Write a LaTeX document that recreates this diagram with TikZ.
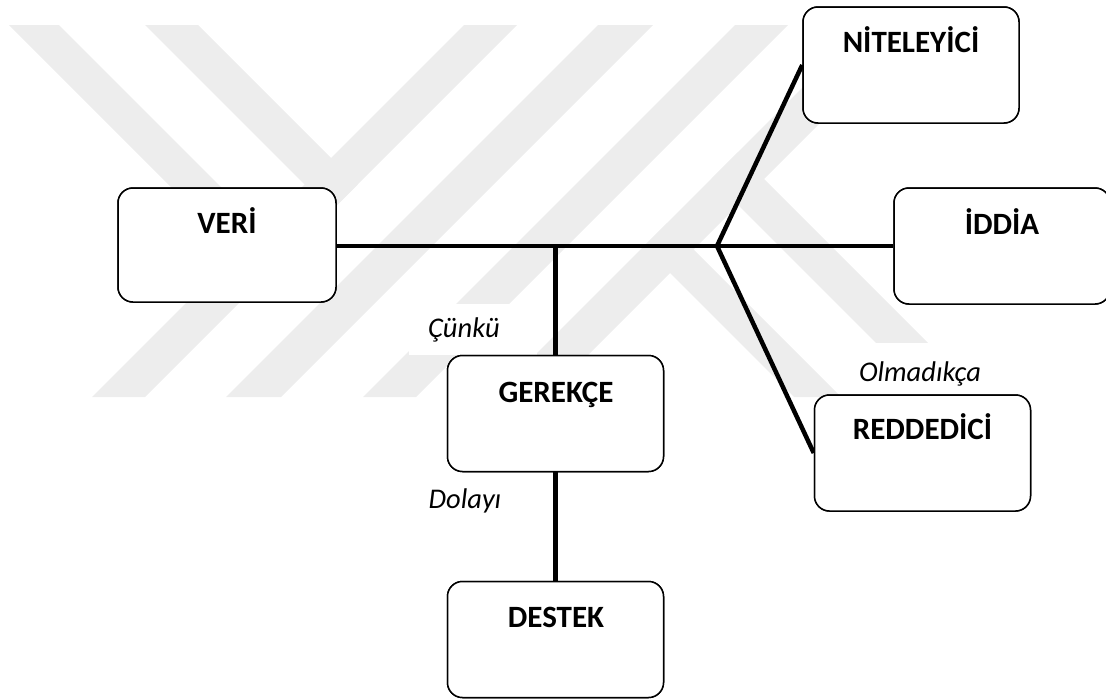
\documentclass[tikz,border=0pt]{standalone}
\usepackage{fontspec}
\setmainfont{Carlito}
\definecolor{wm}{RGB}{237,237,237}
\begin{document}
\begin{tikzpicture}[x=1pt,y=-1pt,
  box/.style={draw, line width=1.5pt, rounded corners=15pt, fill=white, minimum width=216pt, minimum height=116pt, inner sep=0pt},
  title/.style={anchor=base, font=\fontsize{31}{36}\selectfont\bfseries, inner sep=0pt},
  word/.style={anchor=base, font=\fontsize{28.5}{34}\selectfont\itshape, inner sep=0pt},
  link/.style={line width=4.5pt},
  wmark/.style={fill=wm, draw=none},
  cover/.style={fill=white, draw=none}]
\useasboundingbox (0,0) rectangle (1106,699);
% watermark bands
\fill[wmark] (464,25) -- (517,25) -- (145,397) -- (92,397) -- cycle;
\fill[wmark] (598,25) -- (653,25) -- (281,397) -- (226,397) -- cycle;
\fill[wmark] (735,25) -- (788,25) -- (416,397) -- (363,397) -- cycle;
\fill[wmark] (865,25) -- (918,25) -- (546,397) -- (493,397) -- cycle;
\fill[wmark] (9,25) -- (59,25) -- (288,254) -- (263,279) -- cycle;
\fill[wmark] (145,25) -- (198,25) -- (357.5,184.5) -- (331,211) -- cycle;
\fill[wmark] (667,223) -- (841,397) -- (794,397) -- (643.5,246.5) -- cycle;
\fill[wmark] (737.5,152.5) -- (982,397) -- (930,397) -- (711.5,178.5) -- cycle;
% white backgrounds of the small labels
\fill[cover] (409,304) rectangle (537,355);
\fill[cover] (840,343) rectangle (1010,394);
% connectors
\coordinate (fork) at (717,246);
\coordinate (joint) at (555.5,246);
\node[box, minimum width=218pt, minimum height=114pt] (veri) at (227,245) {};
\node[box] (niteleyici) at (911,65) {};
\node[box] (iddia) at (1002,246) {};
\node[box] (gerekce) at (555.5,413.5) {};
\node[box] (destek) at (555.5,639.5) {};
\node[box] (reddedici) at (922.5,453) {};
\draw[link] (veri.east |- fork) -- (iddia.west |- fork);
\draw[link, line join=miter] (niteleyici.west) -- (fork) -- (reddedici.west);
\draw[link] (joint) -- (gerekce.north);
\draw[link] (gerekce.south) -- (destek.north);
% boxes drawn again over the line ends
\node[box, minimum width=218pt, minimum height=114pt] (veriB) at (227,245) {};
\node[box] (niteleyiciB) at (911,65) {};
\node[box] (iddiaB) at (1002,246) {};
\node[box] (gerekceB) at (555.5,413.5) {};
\node[box] (destekB) at (555.5,639.5) {};
\node[box] (reddediciB) at (922.5,453) {};
% titles
\node[title] (veriT) at (227,233) {VERİ};
\node[title] (niteleyiciT) at (911,52) {NİTELEYİCİ};
\node[title] (iddiaT) at (1002,234) {İDDİA};
\node[title] (gerekceT) at (556,402) {GEREKÇE};
\node[title] (destekT) at (556,627) {DESTEK};
\node[title] (reddediciT) at (922.5,439) {REDDEDİCİ};
% connector words
\node[word] (cunku) at (464,337) {Çünkü};
\node[word] (dolayi) at (465,508) {Dolayı};
\node[word] (olmadikca) at (920,381) {Olmadıkça};
\end{tikzpicture}
\end{document}
